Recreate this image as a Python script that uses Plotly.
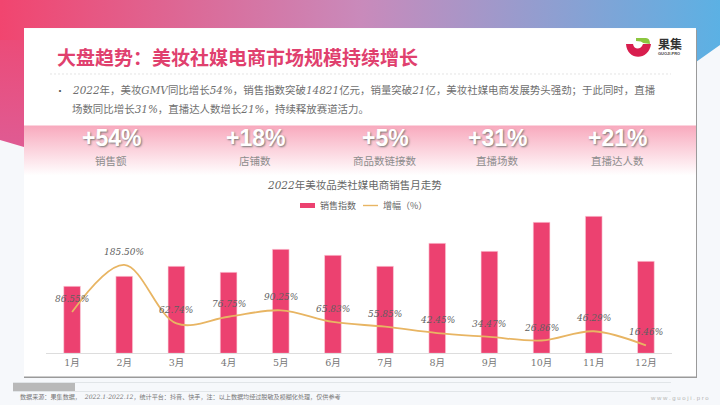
import base64
import plotly.graph_objects as go

# Data
months = ["1月", "2月", "3月", "4月", "5月", "6月", "7月", "8月", "9月", "10月", "11月", "12月"]
sales_index = [67, 77, 87, 81, 104, 98, 87, 110, 102, 131, 137, 92]
growth = [86.55, 185.50, 62.74, 76.75, 90.25, 65.83, 55.85, 42.45, 34.47, 26.86, 46.29, 16.46]
growth_labels = ["86.55%", "185.50%", "62.74%", "76.75%", "90.25%", "65.83%",
                 "55.85%", "42.45%", "34.47%", "26.86%", "46.29%", "16.46%"]

kpi_values = ["+54%", "+18%", "+5%", "+31%", "+21%"]
kpi_names = ["销售额", "店铺数", "商品数链接数", "直播场数", "直播达人数"]
kpi_x = [111, 255, 385, 497, 617]

CJK = "Noto Sans CJK SC"
HAND = f"DejaVu Serif, {CJK}"
PINK = "#ec4170"
GOLD = "#e8b563"
GREY = "#777777"

# Slide furniture (gradient banner, card, pink band, logo) as one background picture
svg = f"""<svg xmlns="http://www.w3.org/2000/svg" width="720" height="405" viewBox="0 0 720 405">
<defs>
<linearGradient id="top" gradientUnits="userSpaceOnUse" x1="0" y1="30" x2="720" y2="60">
<stop offset="0" stop-color="#f1456f"/><stop offset="0.5" stop-color="#c98abb"/><stop offset="1" stop-color="#5bb1e4"/>
</linearGradient>
<linearGradient id="left" x1="0" y1="0" x2="0" y2="1">
<stop offset="0" stop-color="#f0466f"/><stop offset="1" stop-color="#df5b93"/>
</linearGradient>
<linearGradient id="band" x1="0" y1="0" x2="0" y2="1">
<stop offset="0" stop-color="#f8a9bd"/><stop offset="1" stop-color="#ffffff"/>
</linearGradient>
<filter id="soft"><feGaussianBlur stdDeviation="0.5"/></filter>
</defs>
<rect width="720" height="405" fill="#f6f8fb"/>
<path d="M0,0 H24 V147 L0,140 Z" fill="url(#left)"/>
<path d="M0,0 H720 V45 L696,62 V28 H24 V40 H0 Z" fill="url(#top)"/>
<rect x="24" y="30" width="673" height="348" fill="#9a9a9a" filter="url(#soft)"/>
<rect x="24" y="28.5" width="672" height="348" fill="#ffffff"/>
<rect x="24" y="125.5" width="672" height="50" fill="url(#band)"/>
<line x1="50" y1="74" x2="671" y2="74" stroke="#d9d9d9" stroke-width="0.7" stroke-dasharray="2 2"/>
<line x1="13" y1="382.5" x2="671" y2="382.5" stroke="#dcdfe3" stroke-width="0.8"/>
<line x1="13" y1="391.5" x2="671" y2="391.5" stroke="#dcdfe3" stroke-width="0.8"/>
<rect x="13" y="383" width="62" height="8" fill="#b9b9b9"/>
<path d="M626,44 C627,61 649,61 651,44 L643,44 C641,50 634,50 633,44 Z" fill="#d81e4e"/>
<path d="M636,38 L646,38 Q650,38 650,44 L643,43 Q642,41 636,41 Z" fill="#8cc63f"/>
<rect x="300" y="203" width="15" height="5" fill="{PINK}"/>
<line x1="363" y1="205.5" x2="378" y2="205.5" stroke="{GOLD}" stroke-width="1.4"/>
</svg>"""
bg_uri = "data:image/svg+xml;base64," + base64.b64encode(svg.encode()).decode()

fig = go.Figure()

fig.add_trace(go.Bar(
    x=months, y=sales_index, name="销售指数",
    marker=dict(color=PINK, line=dict(color="#fbd5df", width=0.6)),
    width=0.32,
))
fig.add_trace(go.Scatter(
    x=months, y=growth, name="增幅（%）", yaxis="y2", mode="lines",
    line=dict(color=GOLD, width=1.8, shape="spline", smoothing=1.0),
))


def note(text, x, y, size=10, color=GREY, family=CJK, anchor="center", **kw):
    # x and y are slide pixels
    fig.add_annotation(
        text=text, x=x / 720, y=1 - y / 405, xref="paper", yref="paper",
        showarrow=False, xanchor=anchor, yanchor="middle",
        font=dict(size=size, color=color, family=family, **kw),
    )


note("大盘趋势：美妆社媒电商市场规模持续增长", 54.5, 56, size=19, color="#e0406e", anchor="left", weight="bold")
note("果集", 656, 44, size=12, color="#333333", anchor="left", weight="bold")
note("GUOJI.PRO", 656, 53, size=4, color="#444444", family="Liberation Sans", anchor="left", weight="bold")

note("•", 53, 90, size=10, color="#555555", anchor="left")
note("<i>2022</i>年，美妆<i>GMV</i>同比增长<i>54%</i>，销售指数突破<i>14821</i>亿元，销量突破<i>21</i>亿，"
     "美妆社媒电商发展势头强劲；于此同时，直播", 69.5, 90, size=10.45, family=HAND, color="#6f6f6f", anchor="left")
note("场数同比增长<i>31%</i>，直播达人数增长<i>21%</i>，持续释放赛道活力。",
     69.5, 109, size=10.45, family=HAND, color="#6f6f6f", anchor="left")

for val, name, kx in zip(kpi_values, kpi_names, kpi_x):
    note(val, kx, 138, size=23, color="#ffffff", family="Liberation Sans", weight="bold",
         shadow="1px 1px 2px #777777")
    note(name, kx, 161, size=10.5, color="#8c8c8c")

note("<i>2022</i>年美妆品类社媒电商销售月走势", 354, 185, size=10.5, family=HAND, color="#666666")

# legend: swatches are in the background picture, the reference's are flat 15x5 bars
note("销售指数", 318, 205.5, size=9, color="#666666", anchor="left")
note("增幅（%）", 381, 205.5, size=9, color="#666666", anchor="left")

# line labels sit about 13px above each point
for m, g, lab in zip(months, growth, growth_labels):
    fig.add_annotation(
        text=f"<i>{lab}</i>", x=m, y=g, xref="x", yref="y2", yshift=13, showarrow=False,
        font=dict(size=9, color="#5f5f5f", family="DejaVu Serif"),
    )

note("数据来源：果集数据，  <i>2022.1-2022.12</i>，统计平台：抖音、快手，注：以上数据均经过脱敏及模糊化处理，仅供参考",
     18, 396.5, size=6.1, family=HAND, color="#777777", anchor="left")
note("w w w . g u o j i . p r o", 711, 398, size=6, color="#b5b5b5", family="Liberation Sans", anchor="right")

fig.add_layout_image(
    source=bg_uri, xref="paper", yref="paper", x=0, y=1, sizex=1, sizey=1,
    xanchor="left", yanchor="top", sizing="stretch", layer="below",
)

fig.update_layout(
    width=720, height=405, margin=dict(l=0, r=0, t=0, b=0),
    paper_bgcolor="#f6f8fb", plot_bgcolor="rgba(0,0,0,0)",
    font=dict(family=CJK),
    bargap=0.68, showlegend=False,
    xaxis=dict(
        domain=[46 / 720, 672 / 720], showline=True, linecolor="#dddddd", linewidth=1,
        ticks="", showgrid=False, tickfont=dict(size=9.5, color=GREY, family=HAND),
    ),
    yaxis=dict(domain=[(405 - 353.3) / 405, (405 - 203.3) / 405], range=[0, 150], visible=False),
    yaxis2=dict(range=[0, 315], overlaying="y", visible=False),
)

# drop the page's default 8px body margin so the figure fills the window
fig.write_html("out.html", config={"displayModeBar": False},
               post_script="document.body.style.margin='0';")
